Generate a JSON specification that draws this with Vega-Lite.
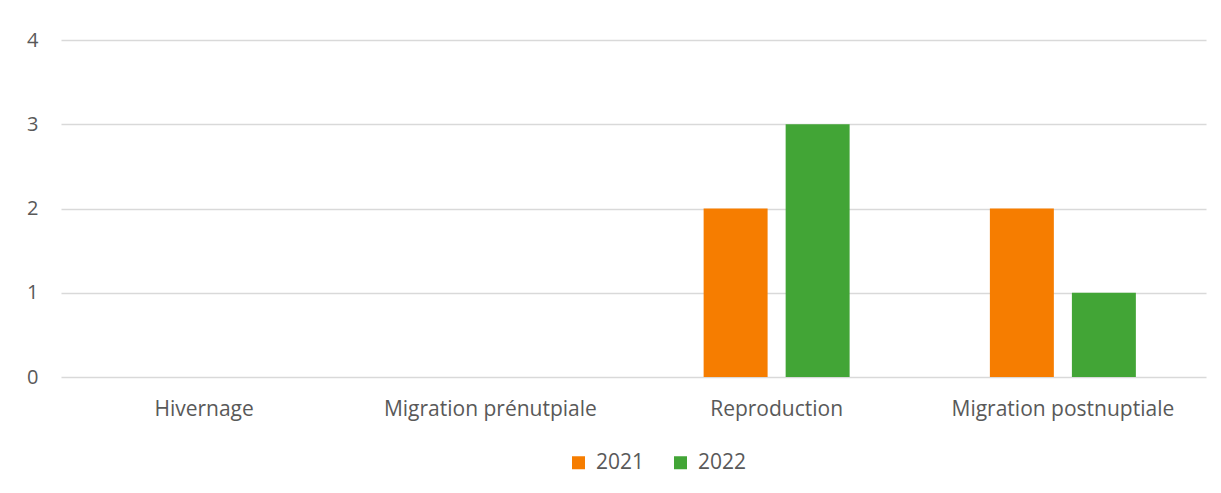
{
  "$schema": "https://vega.github.io/schema/vega-lite/v6.json",
  "width": 1145,
  "height": 337,
  "autosize": {"type": "none"},
  "padding": {"left": 61, "top": 40, "right": 15, "bottom": 116},
  "background": "#ffffff",
  "data": {
    "values": [
      {"periode": "Hivernage", "annee": "2021", "n": 0},
      {"periode": "Hivernage", "annee": "2022", "n": 0},
      {"periode": "Migration prénutpiale", "annee": "2021", "n": 0},
      {"periode": "Migration prénutpiale", "annee": "2022", "n": 0},
      {"periode": "Reproduction", "annee": "2021", "n": 2},
      {"periode": "Reproduction", "annee": "2022", "n": 3},
      {"periode": "Migration postnuptiale", "annee": "2021", "n": 2},
      {"periode": "Migration postnuptiale", "annee": "2022", "n": 1}
    ]
  },
  "mark": {"type": "bar"},
  "encoding": {
    "x": {
      "field": "periode",
      "type": "nominal",
      "sort": null,
      "title": null,
      "scale": {"paddingInner": 0.49, "paddingOuter": 0.245},
      "axis": {
        "labelAngle": 0,
        "domain": false,
        "ticks": false,
        "labelPadding": 21,
        "labelFontSize": 21,
        "labelFont": "Open Sans",
        "labelColor": "#595959",
        "labelLimit": 400
      }
    },
    "xOffset": {
      "field": "annee",
      "type": "nominal",
      "scale": {"paddingInner": 0.22, "paddingOuter": 0}
    },
    "y": {
      "field": "n",
      "type": "quantitative",
      "title": null,
      "scale": {"domain": [0, 4]},
      "axis": {
        "values": [0, 1, 2, 3, 4],
        "labelOverlap": false,
        "domain": false,
        "ticks": false,
        "labelPadding": 23,
        "labelFontSize": 20,
        "labelFont": "Open Sans",
        "labelColor": "#595959",
        "gridColor": "#d9d9d9",
        "gridWidth": 1.5
      }
    },
    "color": {
      "field": "annee",
      "type": "nominal",
      "title": null,
      "scale": {"domain": ["2021", "2022"], "range": ["#f67d00", "#42a536"]},
      "legend": {
        "orient": "none",
        "direction": "horizontal",
        "legendX": 507,
        "legendY": 412,
        "symbolType": "square",
        "symbolSize": 169,
        "symbolStrokeWidth": 0,
        "labelFontSize": 21,
        "labelFont": "Open Sans",
        "labelColor": "#595959",
        "labelOffset": 7,
        "columnPadding": 25
      }
    }
  },
  "config": {
    "view": {"stroke": null}
  }
}
